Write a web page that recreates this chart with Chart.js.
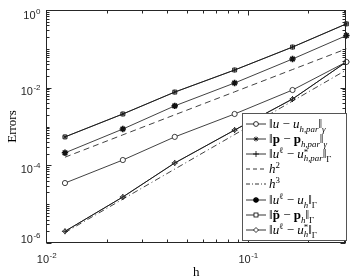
<!DOCTYPE html>
<html>
<head>
<meta charset="utf-8">
<script src="https://cdn.jsdelivr.net/npm/chart.js@4/dist/chart.umd.min.js"></script>
<style>
html, body { margin: 0; padding: 0; background: #fff; }
#wrap { position: relative; width: 352px; height: 280px; }
#legend {
    position: absolute; left: 242px; top: 113px; width: 103px; height: 126px;
    border: 1px solid #555; background: #fff; will-change: transform;
    font-family: "Liberation Serif", serif; font-size: 13px; color: #000;
}
.row { position: absolute; left: 0; height: 14px; line-height: 14px; white-space: nowrap; }
.row svg { position: absolute; left: 3px; top: 0; }
.row .t { position: absolute; left: 26px; top: 0; }
sub, sup { font-size: 0.68em; line-height: 0; }
.ss { display: inline-block; vertical-align: -0.35em; line-height: 0.75; font-size: 0.68em; }
.ss span { display: block; }
</style>
</head>
<body>
<div id="wrap">
    <canvas id="errChart" width="352" height="280"></canvas>
    <div id="legend"></div>
</div>
<script>
// mesh sizes and errors
const hValues = [0.01242, 0.02405, 0.04351, 0.0862, 0.167, 0.309];
const errUPar = [3.5e-5, 1.37e-4, 5.4e-4, 2.1e-3, 8.7e-3, 0.046];
const errPPar = [5.4e-4, 2.1e-3, 7.7e-3, 0.0285, 0.111, 0.44];
const errUStarPar = [2.0e-6, 1.53e-5, 1.15e-4, 8.1e-4, 5.1e-3, 0.046];
const refH2 = [1.62e-4, 6.1e-4, 2.0e-3, 7.8e-3, 0.0293, 0.100];
const refH3 = [1.86e-6, 1.35e-5, 8.0e-5, 6.2e-4, 4.52e-3, 0.0286];
const errU = [2.1e-4, 8.6e-4, 3.4e-3, 0.0132, 0.0547, 0.22];
const errP = [5.4e-4, 2.1e-3, 7.7e-3, 0.0285, 0.111, 0.44];
const errUStar = [2.0e-6, 1.53e-5, 1.15e-4, 8.1e-4, 5.1e-3, 0.046];

const yTickExps = [0, -2, -4, -6];
const xTickExps = [-2, -1];

const legendLabels = [
    '‖<i>u</i> − <i>u</i><sub><i>h,par</i></sub>‖<sub><i>γ</i></sub>',
    '‖<b>p</b> − <b>p</b><sub><i>h,par</i></sub>‖<sub><i>γ</i></sub>',
    '‖<i>u</i><sup>ℓ</sup> − <i>u</i><span class="ss"><span>*</span><span><i>h,par</i></span></span>‖<sub>Γ</sub>',
    '<i>h</i><sup>2</sup>',
    '<i>h</i><sup>3</sup>',
    '‖<i>u</i><sup>ℓ</sup> − <i>u</i><sub><i>h</i></sub>‖<sub>Γ</sub>',
    '‖<b>p̃</b> − <b>p</b><sub><i>h</i></sub>‖<sub>Γ</sub>',
    '‖<i>u</i><sup>ℓ</sup> − <i>u</i><span class="ss"><span>*</span><span><i>h</i></span></span>‖<sub>Γ</sub>'
];

function pts(values) {
    return values.map((v, i) => ({ x: hValues[i], y: v }));
}

function series(values, style, radius, fill, dash, bw) {
    return {
        data: pts(values),
        borderColor: '#111',
        borderWidth: 0.8,
        borderDash: dash || [],
        pointStyle: style || false,
        pointRadius: style ? radius : 0,
        pointBorderColor: '#111',
        pointBackgroundColor: fill || '#fff',
        pointBorderWidth: bw || 0.8,
        fill: false,
        tension: 0
    };
}

const datasets = [
    series(errUPar, 'circle', 2.6),
    series(errPPar, 'star', 2.5),
    series(errUStarPar, 'cross', 3),
    series(refH2, null, 0, null, [6, 4]),
    series(refH3, null, 0, null, [6, 3, 1, 3]),
    series(errU, 'star', 3.2, '#000', null, 1.6),
    series(errP, 'rect', 2.8, '#fff'),
    series(errUStar, 'rectRot', 2.5)
];

function drawPow(ctx, exp, x, base, align) {
    ctx.font = '11px "Liberation Sans", Arial, sans-serif';
    const w10 = ctx.measureText('10').width;
    ctx.font = '8px "Liberation Sans", Arial, sans-serif';
    const es = String(exp);
    const we = ctx.measureText(es).width;
    let left = align === 'right' ? x - w10 - we : x - (w10 + we) / 2;
    ctx.font = '11px "Liberation Sans", Arial, sans-serif';
    ctx.fillText('10', left, base);
    ctx.font = '8px "Liberation Sans", Arial, sans-serif';
    ctx.fillText(es, left + w10 + 0.5, base - 5);
}

const frame = {
    id: 'frame',
    afterDraw(chart) {
        const { ctx, chartArea: a, scales } = chart;
        const sx = scales.x, sy = scales.y;
        const L = Math.round(a.left) + 0.5, R = Math.round(a.right) - 0.5;
        const T = Math.round(a.top) + 0.5, B = Math.round(a.bottom) - 0.5;
        ctx.save();
        ctx.strokeStyle = '#262626';
        ctx.lineWidth = 1;
        ctx.strokeRect(L, T, R - L, B - T);
        ctx.beginPath();
        // x ticks
        for (let d = -2; d <= -1; d++) {
            for (let m = 1; m <= 9; m++) {
                const v = m * Math.pow(10, d);
                if (v > sx.max + 1e-9) continue;
                const px = Math.round(sx.getPixelForValue(v)) + 0.5;
                const len = m === 1 ? 5 : 3;
                ctx.moveTo(px, B); ctx.lineTo(px, B - len);
                ctx.moveTo(px, T); ctx.lineTo(px, T + len);
            }
        }
        // y ticks
        for (let d = -6; d <= 0; d++) {
            for (let m = 1; m <= 9; m++) {
                const v = m * Math.pow(10, d);
                if (v > 1.0001) continue;
                const py = Math.round(sy.getPixelForValue(v)) + 0.5;
                const len = (m === 1 && d % 2 === 0) ? 5 : 3;
                ctx.moveTo(L, py); ctx.lineTo(L + len, py);
                ctx.moveTo(R, py); ctx.lineTo(R - len, py);
            }
        }
        ctx.stroke();

        ctx.fillStyle = '#262626';
        ctx.textAlign = 'left';
        ctx.textBaseline = 'alphabetic';
        const yBase = { '0': 19, '-2': 95, '-4': 173, '-6': 243 };
        yTickExps.forEach(e => drawPow(ctx, e, 40, yBase[e], 'right'));
        xTickExps.forEach(e => drawPow(ctx, e, sx.getPixelForValue(Math.pow(10, e)) + 0.5, 263, 'center'));

        ctx.fillStyle = '#000';
        ctx.font = '13px "Liberation Serif", serif';
        ctx.textAlign = 'center';
        ctx.fillText('h', (a.left + a.right) / 2, 276);
        ctx.translate(16, (a.top + a.bottom) / 2);
        ctx.rotate(-Math.PI / 2);
        ctx.fillText('Errors', 0, 0);
        ctx.restore();
    }
};

new Chart(document.getElementById('errChart'), {
    type: 'line',
    data: { datasets: datasets },
    options: {
        responsive: false,
        animation: false,
        layout: { padding: { top: 10, right: 5, left: 0, bottom: 0 } },
        plugins: { legend: { display: false }, tooltip: { enabled: false } },
        elements: { line: { borderCapStyle: 'butt' } },
        datasets: { line: { clip: false } },
        scales: {
            x: {
                type: 'logarithmic', min: 0.01, max: 0.309,
                grid: { display: false }, border: { display: false },
                ticks: { display: false },
                afterFit: s => { s.height = 37; }
            },
            y: {
                type: 'logarithmic', min: 1e-6, max: 1,
                grid: { display: false }, border: { display: false },
                ticks: { display: false },
                afterFit: s => { s.width = 46; }
            }
        }
    },
    plugins: [frame]
});

// legend box with line samples and markers
const lg = document.getElementById('legend');
const marks = [
    '<circle cx="10" cy="7" r="2.4" fill="#fff" stroke="#000" stroke-width="0.8"/>',
    '<path d="M7.5 7h5M10 4.5v5M8.2 5.2l3.6 3.6M11.8 5.2l-3.6 3.6" stroke="#000" stroke-width="0.8"/>',
    '<path d="M7 7h6M10 4v6" stroke="#000" stroke-width="0.8"/>',
    '',
    '',
    '<path d="M7 7h6M10 4v6M7.9 4.9l4.2 4.2M12.1 4.9l-4.2 4.2" stroke="#000" stroke-width="1.4"/>',
    '<rect x="8" y="5" width="4" height="4" fill="#fff" stroke="#000" stroke-width="0.8"/>',
    '<path d="M10 4.5l2.5 2.5-2.5 2.5-2.5-2.5z" fill="#fff" stroke="#000" stroke-width="0.8"/>'
];
const dashes = ['', '', '', '4 3', '4 2 1 2', '', '', ''];
legendLabels.forEach((txt, i) => {
    const row = document.createElement('div');
    row.className = 'row';
    row.style.top = (3 + i * 15.1) + 'px';
    const dash = dashes[i] ? ' stroke-dasharray="' + dashes[i] + '"' : '';
    row.innerHTML = '<svg width="20" height="14"><line x1="0" y1="7" x2="20" y2="7" stroke="#000" stroke-width="0.8"' + dash + '/>' +
        marks[i] + '</svg><span class="t">' + txt + '</span>';
    lg.appendChild(row);
});
</script>
</body>
</html>
